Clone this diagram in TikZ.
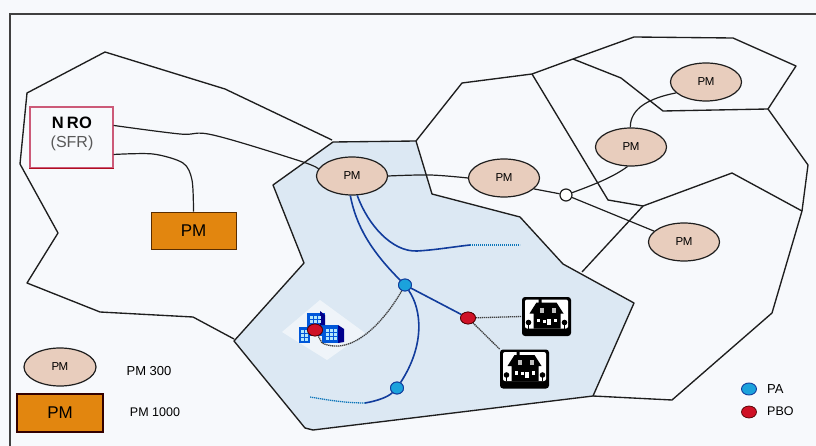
\documentclass[tikz,border=0pt]{standalone}
\usepackage{fontspec}
\setmainfont{Liberation Sans}
\usetikzlibrary{shapes.geometric}
\definecolor{paper}{HTML}{F7F9FC}
\definecolor{zone}{HTML}{DCE8F3}
\definecolor{ink}{HTML}{1E1E1E}
\definecolor{pmfill}{HTML}{E8CDBD}
\definecolor{orangepm}{HTML}{E2860F}
\definecolor{fibre}{HTML}{123C9C}
\definecolor{pablue}{HTML}{1BA2DC}
\definecolor{pbored}{HTML}{CF1126}
\definecolor{nroedge}{HTML}{CC5A78}
\tikzset{
  zoneline/.style={draw=ink,line width=1.35pt,line join=round},
  link/.style={draw=ink,line width=1.2pt},
  fibreline/.style={draw=fibre,line width=1.6pt},
  fibredots/.style={draw=fibre!70!cyan,line width=1.3pt,dash pattern=on 1.2pt off 0.8pt},
  dropline/.style={draw=ink!85,line width=1.3pt,dash pattern=on 1.3pt off 0.7pt},
  pmell/.style={ellipse,draw=ink,line width=1.2pt,fill=pmfill,minimum width=71pt,minimum height=38pt,inner sep=0pt,font=\fontsize{11.5}{12}\selectfont,text=black},
  pmbox/.style={rectangle,draw=#1,fill=orangepm,inner sep=0pt,font=\fontsize{17}{18}\selectfont,text=black},
  pa/.style={ellipse,draw=fibre,line width=0.9pt,fill=pablue,minimum width=13pt,minimum height=12pt,inner sep=0pt},
  pbo/.style={ellipse,draw=black!70!red,line width=0.7pt,fill=pbored,minimum width=15pt,minimum height=12pt,inner sep=0pt},
  legendtext/.style={inner sep=0pt,font=\fontsize{13}{14}\selectfont,text=black},
  housebox/.style={rectangle,fill=black,rounded corners=3pt,minimum width=49pt,minimum height=39pt,inner sep=0pt},
}
\newcommand{\housedetail}[1]{%
  \begin{scope}[shift={(#1.center)}]
    \fill[white,rounded corners=2pt] (-21.5,-17) rectangle (21.5,12);
    \fill[black] (-17,-3) -- (-10,-14) -- (-8,-14) -- (-8,-18) -- (-5,-18) -- (-5,-14) -- (10,-14) -- (17,-3) -- (14,-3) -- (14,12) -- (-13,12) -- (-13,-3) -- cycle;
    \fill[black] (-18,6) circle (2.8); \fill[black] (18,6) circle (2.8);
    \fill[black] (-18.6,6) rectangle (-17.4,12); \fill[black] (17.4,6) rectangle (18.6,12);
    \fill[black!25] (-7,-9) rectangle (-3,-4); \fill[black!25] (5,-9) rectangle (9,-4);
    \fill[white] (-10,2) rectangle (-6.5,5.5); \fill[white] (-3.5,3) rectangle (-1,6);
    \fill[white] (0.5,2.5) rectangle (4.5,8.5); \fill[white] (7,2) rectangle (10.5,5.5);
  \end{scope}}
\begin{document}
\begin{tikzpicture}[x=1pt,y=-1pt]
\useasboundingbox (0,0) rectangle (816,446);
\fill[paper] (0,0) rectangle (816,446);
% frame
\draw[draw=ink!85,line width=1.3pt] (10,446) -- (10,14) -- (816,14);
% blue zone
\fill[zone] (333,142) -- (416,141) -- (432,194) -- (520,217) -- (563,264) -- (634,303) -- (593,396) -- (313,430) -- (305,428) -- (234,341) -- (304,263) -- (273,185) -- cycle;
% zones
\draw[zoneline] (333,142) -- (416,141) -- (432,194) -- (520,217) -- (563,264) -- (634,303) -- (593,396) -- (313,430) -- (305,428) -- (234,341) -- (304,263) -- (273,185) -- cycle;
\draw[zoneline] (332,140) -- (225,89) -- (105,52) -- (27,93) -- (20,164) -- (58,233) -- (27,283) -- (100,312) -- (193,317) -- (234,339);
\draw[zoneline] (416,141) -- (462,83) -- (532,74) -- (573,59) -- (634,37) -- (733,38) -- (796,66) -- (768,109) -- (808,165) -- (802,211) -- (772,313) -- (672,400) -- (593,396);
\draw[zoneline] (573,59) -- (621,78) -- (663,111) -- (768,109);
\draw[zoneline] (532,74) -- (608,200) -- (643,206) -- (732,173) -- (802,211);
\draw[zoneline] (643,206) -- (582,272);
% nodes
\node[pmell] (pma) at (352,176) {P\kern-0.6pt M};
\node[pmell] (pmb) at (504,178) {P\kern-0.6pt M};
\node[pmell] (pmc) at (631,147) {P\kern-0.6pt M};
\node[pmell] (pmd) at (706,82) {P\kern-0.6pt M};
\node[pmell] (pme) at (684,242) {P\kern-0.6pt M};
\node[circle,draw=ink,line width=1.2pt,fill=white,minimum size=12pt,inner sep=0pt] (junction) at (566,195) {};
\node[rectangle,draw=nroedge,line width=1.1pt,fill=paper,minimum width=83pt,minimum height=61pt,inner sep=0pt] (nro) at (71.5,137.5) {};
\draw[draw=pbored!85!black,line width=1.3pt] (nro.south west) -- (nro.south east);
\node[inner sep=0pt,font=\bfseries\fontsize{16.5}{17}\selectfont,text=black] (nrotext) at (72,123) {N\kern3pt R\kern0.5pt O};
\node[inner sep=0pt,font=\fontsize{16}{17}\selectfont,text=black!65] (sfrtext) at (72,143) {(SFR)};
\node[pmbox=black!65!orange,line width=0.9pt,minimum width=85pt,minimum height=37pt] (pmbig) at (193.5,230.5) {PM};
\node[housebox] (houseb) at (524.5,369) {};
\node[housebox] (housea) at (546.5,316.5) {};
\housedetail{housea}
\housedetail{houseb}
% building
\fill[white,opacity=0.55] (320,300) -- (365,333) -- (327,360) -- (282,332) -- cycle;
\fill[blue!60!cyan!85!black] (307,313) rectangle (325,336);
\fill[blue!60!cyan!85!black] (299,327) rectangle (310,343);
\fill[blue!60!cyan!85!black] (322,325) rectangle (338,343);
\fill[blue!55!black] (338,325) -- (344,329) -- (344,342) -- (338,343) -- cycle;
\fill[blue!55!black] (320,311) -- (325,315) -- (325,325) -- (320,325) -- cycle;
\foreach \x in {310,314,318} \foreach \y in {316,320} \fill[white!70!cyan] (\x,\y) rectangle +(2.5,2.5);
\foreach \x in {301,305} \foreach \y in {330,334,338} \fill[white!70!cyan] (\x,\y) rectangle +(2.5,2.5);
\foreach \x in {326,330,334} \foreach \y in {329,333,337} \fill[white!70!cyan] (\x,\y) rectangle +(2.5,2.5);
\node[pbo] (pboc) at (315,330) {};
\node[pa] (paa) at (405,285) {};
\node[pa] (pab) at (397,388) {};
\node[pbo] (pboa) at (468,318) {};
\coordinate (enda) at (470,245);
\coordinate (endb) at (520,245);
\coordinate (endc) at (365,403);
\coordinate (endd) at (310,397);
% connectors
\draw[link] plot[smooth,tension=0.6] coordinates {(nro.16) (180,134) (213,135) (300,161) (pma.168)};
\draw[link] plot[smooth,tension=0.5] coordinates {(nro.-22) (153,154) (183,163) (192,180) (pmbig.north)};
\draw[link] plot[smooth,tension=0.6] coordinates {(pma.east) (430,175) (pmb.west)};
\draw[link] (pmb.-20) -- (junction);
\draw[link] (junction) .. controls (590,186) and (612,178) .. (pmc.-100);
\draw[link] (junction) -- (pme.160);
\draw[link] (pmc.92) .. controls (630,108) and (650,98) .. (pmd.200);
% fibres
\draw[fibreline] (pma.-95) .. controls (356,225) and (370,250) .. (paa);
\draw[fibreline] (pma.-75) .. controls (368,225) and (392,252) .. (417,251) .. controls (435,250) and (452,247) .. (enda);
\draw[fibredots] (enda) -- (endb);
\draw[fibreline] (paa) -- (pboa);
\draw[fibreline] (paa) .. controls (422,310) and (425,345) .. (pab);
\draw[fibreline] (pab) .. controls (388,397) and (377,401) .. (endc);
\draw[fibredots] (endc) .. controls (345,403) and (328,400) .. (endd);
\draw[dropline] (paa) .. controls (388,315) and (355,358) .. (322,343) -- (pboc);
\draw[dropline] (pboa) -- (housea.west);
\draw[dropline] (pboa) -- (houseb.north west);
% redraw node fills over fibres
\node[pa] at (paa) {};
\node[pa] at (pab) {};
\node[pbo] at (pboa) {};
\node[pbo] at (pboc) {};
% legend
\node[pmell,minimum width=72pt] (legpm) at (60,367) {P\kern-0.6pt M};
\node[pmbox=black!80!red,line width=1.4pt,minimum width=86pt,minimum height=38pt] (legbig) at (60,413) {PM};
\node[legendtext] (legpmtext) at (149,371) {PM 300};
\node[legendtext,font=\fontsize{12.5}{14}\selectfont] (legbigtext) at (155,412) {PM 1000};
\node[pa,minimum width=15pt,minimum height=12pt] (legpa) at (749,389) {};
\node[pbo,minimum width=15pt,minimum height=12pt] (legpbo) at (749,412) {};
\node[legendtext,anchor=west] (patext) at (767,389) {PA};
\node[legendtext,anchor=west,font=\fontsize{12.5}{14}\selectfont] (pbotext) at (767,411) {PBO};
\end{tikzpicture}
\end{document}
